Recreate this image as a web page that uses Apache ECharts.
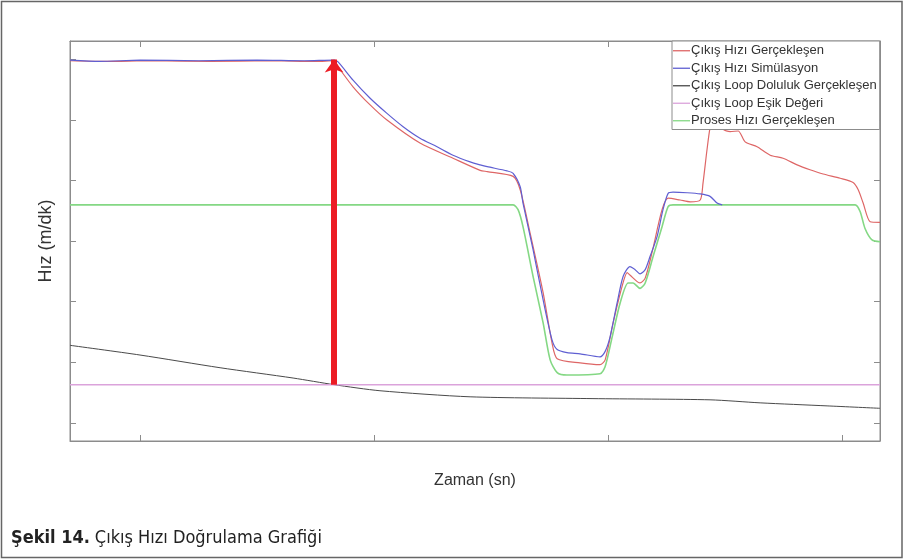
<!DOCTYPE html>
<html>
<head>
<meta charset="utf-8">
<script src="https://cdn.jsdelivr.net/npm/echarts@6/dist/echarts.min.js"></script>
<style>
  html, body { margin: 0; padding: 0; background: #fff; }
  #chart { width: 904px; height: 559px; }
</style>
</head>
<body>
<div id="chart"></div>
<script>
// Time axis (s) and speed axis (m/dk) tick positions
const xTicks = [30, 130, 230, 330];
const yTicks = [0, 10, 20, 30, 40, 50, 60];

// Çıkış Hızı Gerçekleşen (measured exit speed)
const exitSpeedActual = [
  [0, 59.8], [15, 59.7], [35, 59.8], [60, 59.7], [85, 59.8], [105, 59.7], [112.8, 59.8],
  [114.5, 58.8], [120.9, 55.5], [128.2, 52.5], [135.4, 50.0], [149.5, 46.2], [163.6, 43.7],
  [175.2, 41.7], [178.2, 41.5], [189.3, 40.7], [192.3, 38.5], [196.5, 31.4], [202.1, 21.5],
  [205.9, 13.2], [208.1, 10.6], [217.9, 9.9], [226.4, 9.6], [228.6, 10.4], [232.0, 16.5],
  [235.8, 22.5], [238.0, 24.8], [239.2, 24.4], [243.5, 23.1], [245.7, 23.9], [248.6, 28.1],
  [252.9, 35.2], [255.5, 37.1], [260.6, 36.8], [264.9, 36.5], [269.2, 36.8], [270.4, 39.6],
  [272.1, 45.1], [273.4, 48.7], [275.5, 51.7], [277.7, 51.3], [279.0, 48.5], [282.0, 48.1],
  [285.4, 48.2], [288.4, 46.4], [293.5, 45.6], [299.1, 44.2], [304.6, 43.7], [310.6, 42.6],
  [316.1, 41.8], [321.7, 41.1], [329.0, 40.4], [334.5, 39.7], [336.7, 38.5], [338.8, 36.3],
  [341.8, 33.2], [346, 33.1]
];

// Çıkış Hızı Simülasyon (simulated exit speed)
const exitSpeedSim = [
  [0, 59.9], [12.8, 59.7], [30, 59.9], [55, 59.8], [80, 59.9], [100, 59.8], [112.8, 59.9],
  [114.5, 59.6], [120.9, 56.6], [128.2, 53.6], [135.4, 51.1], [142.3, 48.9], [149.5, 47.0],
  [156.8, 45.6], [163.6, 44.2], [170.9, 43.1], [175.2, 42.6], [178.2, 42.3], [186.7, 41.6],
  [189.3, 41.2], [192.3, 39.0], [193.5, 36.3], [197.8, 28.6], [202.1, 20.3], [205.9, 13.7],
  [208.1, 12.1], [212.3, 11.6], [217.9, 11.4], [226.4, 10.9], [228.6, 11.8], [230.7, 14.2],
  [233.7, 19.8], [236.3, 24.2], [239.2, 25.8], [241.4, 25.3], [243.5, 24.6], [245.7, 25.3],
  [247.8, 27.5], [250.8, 30.8], [253.3, 35.2], [255.5, 37.9], [257.6, 38.1], [263.6, 38.0],
  [269.2, 37.8], [273.4, 37.4], [276.4, 36.3], [278.6, 36.0]
];

// Çıkış Loop Doluluk Gerçekleşen (loop fill level)
const loopFill = [
  [0, 12.8], [29.9, 11.2], [64.1, 9.1], [95.3, 7.4], [112.8, 6.3], [132.4, 5.3],
  [170.9, 4.3], [223.4, 4.0], [273.4, 3.8], [294.8, 3.3], [323.4, 2.8], [346, 2.4]
];

// Çıkış Loop Eşik Değeri (loop threshold)
const loopThreshold = [[0, 6.3], [346, 6.3]];

// Proses Hızı Gerçekleşen (process speed)
const processSpeed = [
  [0, 36.0], [100, 36.0], [189.3, 36.0], [191.4, 35.2], [193.5, 32.4], [197.8, 24.2],
  [202.1, 16.5], [205.1, 10.4], [208.1, 8.3], [212.3, 7.9], [226.4, 8.1], [228.6, 9.3],
  [231.6, 14.2], [235.0, 19.8], [238.4, 23.1], [240.5, 23.1], [243.5, 22.2], [245.7, 23.1],
  [249.1, 27.5], [252.9, 32.4], [255.5, 35.7], [257.6, 36.0], [335.4, 36.0], [337.5, 34.9],
  [339.6, 32.1], [342.6, 30.2], [346, 29.9]
];

// Moment the loop level crosses the threshold
const crossingTime = 112.8;
const crossingFrom = 6.3;
const crossingTo = 60.0;

const seriesNames = [
  'Çıkış Hızı Gerçekleşen',
  'Çıkış Hızı Simülasyon',
  'Çıkış Loop Doluluk Gerçekleşen',
  'Çıkış Loop Eşik Değeri',
  'Proses Hızı Gerçekleşen'
];
const seriesColors = ['#de6666', '#5f5fd2', '#4a4a4a', '#dba3db', '#84d884'];
const seriesData = [exitSpeedActual, exitSpeedSim, loopFill, loopThreshold, processSpeed];
const seriesWidths = [1.2, 1.2, 1, 1.6, 1.6];

const chart = echarts.init(document.getElementById('chart'), null, { renderer: 'canvas' });

const axisGray = '#8c8c8c';
const tickCommon = { show: true, inside: true, length: 6, lineStyle: { color: axisGray, width: 1 } };
const axisLineCommon = { show: true, onZero: false, lineStyle: { color: axisGray } };

const lineSeries = seriesNames.map((name, i) => ({
  name,
  type: 'line',
  data: seriesData[i],
  symbol: 'none',
  smooth: 0.25,
  z: 2 + (i === 1 ? 1 : 0),
  lineStyle: { color: seriesColors[i], width: seriesWidths[i] },
  itemStyle: { color: seriesColors[i] },
  emphasis: { disabled: true },
  silent: true
}));

// Thick red arrow marking the crossing moment
lineSeries.push({
  name: 'crossing',
  type: 'line',
  data: [],
  silent: true,
  z: 5,
  markLine: {
    silent: true,
    symbol: ['none', 'arrow'],
    symbolSize: [14, 13],
    label: { show: false },
    emphasis: { disabled: true },
    lineStyle: { color: '#ec1c24', width: 6, type: 'solid' },
    data: [[{ coord: [crossingTime, crossingFrom] }, { coord: [crossingTime, crossingTo] }]]
  }
});

chart.setOption({
  animation: false,
  backgroundColor: '#fff',
  textStyle: { fontFamily: 'Liberation Sans, Arial, sans-serif' },
  title: {
    text: '{b|Şekil 14.} {n|Çıkış Hızı Doğrulama Grafiği}',
    left: 6,
    top: 524,
    textStyle: {
      rich: {
        b: { fontFamily: 'DejaVu Sans Condensed', fontWeight: 'bold', fontSize: 18, color: '#222' },
        n: { fontFamily: 'DejaVu Sans Condensed', fontWeight: 'normal', fontSize: 18, color: '#222' }
      }
    }
  },
  legend: {
    orient: 'vertical',
    left: 672,
    top: 41,
    data: seriesNames,
    icon: 'rect',
    itemWidth: 17,
    itemHeight: 1.3,
    itemGap: 4,
    padding: [3, 3, 2, 1],
    backgroundColor: '#fff',
    borderColor: '#8c8c8c',
    borderWidth: 1,
    selectedMode: false,
    z: 10,
    textStyle: { fontSize: 13, color: '#333', padding: [0, 0, 0, -4], lineHeight: 13.5 }
  },
  grid: {
    left: 70, top: 41, right: 24, bottom: 118,
    show: true, borderColor: axisGray, borderWidth: 1
  },
  xAxis: [
    {
      type: 'value', min: 0, max: 346, position: 'bottom',
      name: 'Zaman (sn)', nameLocation: 'middle', nameGap: 32,
      nameTextStyle: { fontSize: 16, color: '#333' },
      axisLine: axisLineCommon,
      axisTick: Object.assign({ customValues: xTicks }, tickCommon),
      axisLabel: { show: false },
      splitLine: { show: false }
    },
    {
      type: 'value', min: 0, max: 346, position: 'top',
      axisLine: axisLineCommon,
      axisTick: Object.assign({ customValues: xTicks }, tickCommon),
      axisLabel: { show: false },
      splitLine: { show: false }
    }
  ],
  yAxis: [
    {
      type: 'value', min: -3, max: 63.06, position: 'left',
      name: 'Hız (m/dk)', nameLocation: 'middle', nameGap: 15,
      nameTextStyle: { fontSize: 18, color: '#333' },
      axisLine: axisLineCommon,
      axisTick: Object.assign({ customValues: yTicks }, tickCommon),
      axisLabel: { show: false },
      splitLine: { show: false }
    },
    {
      type: 'value', min: -3, max: 63.06, position: 'right',
      axisLine: axisLineCommon,
      axisTick: Object.assign({ customValues: yTicks }, tickCommon),
      axisLabel: { show: false },
      splitLine: { show: false }
    }
  ],
  graphic: [
    {
      type: 'rect', silent: true, z: 100,
      shape: { x: 1.5, y: 1.5, width: 900.5, height: 556 },
      style: { fill: null, stroke: '#666', lineWidth: 1.5 }
    }
  ],
  series: lineSeries
});
</script>
</body>
</html>
